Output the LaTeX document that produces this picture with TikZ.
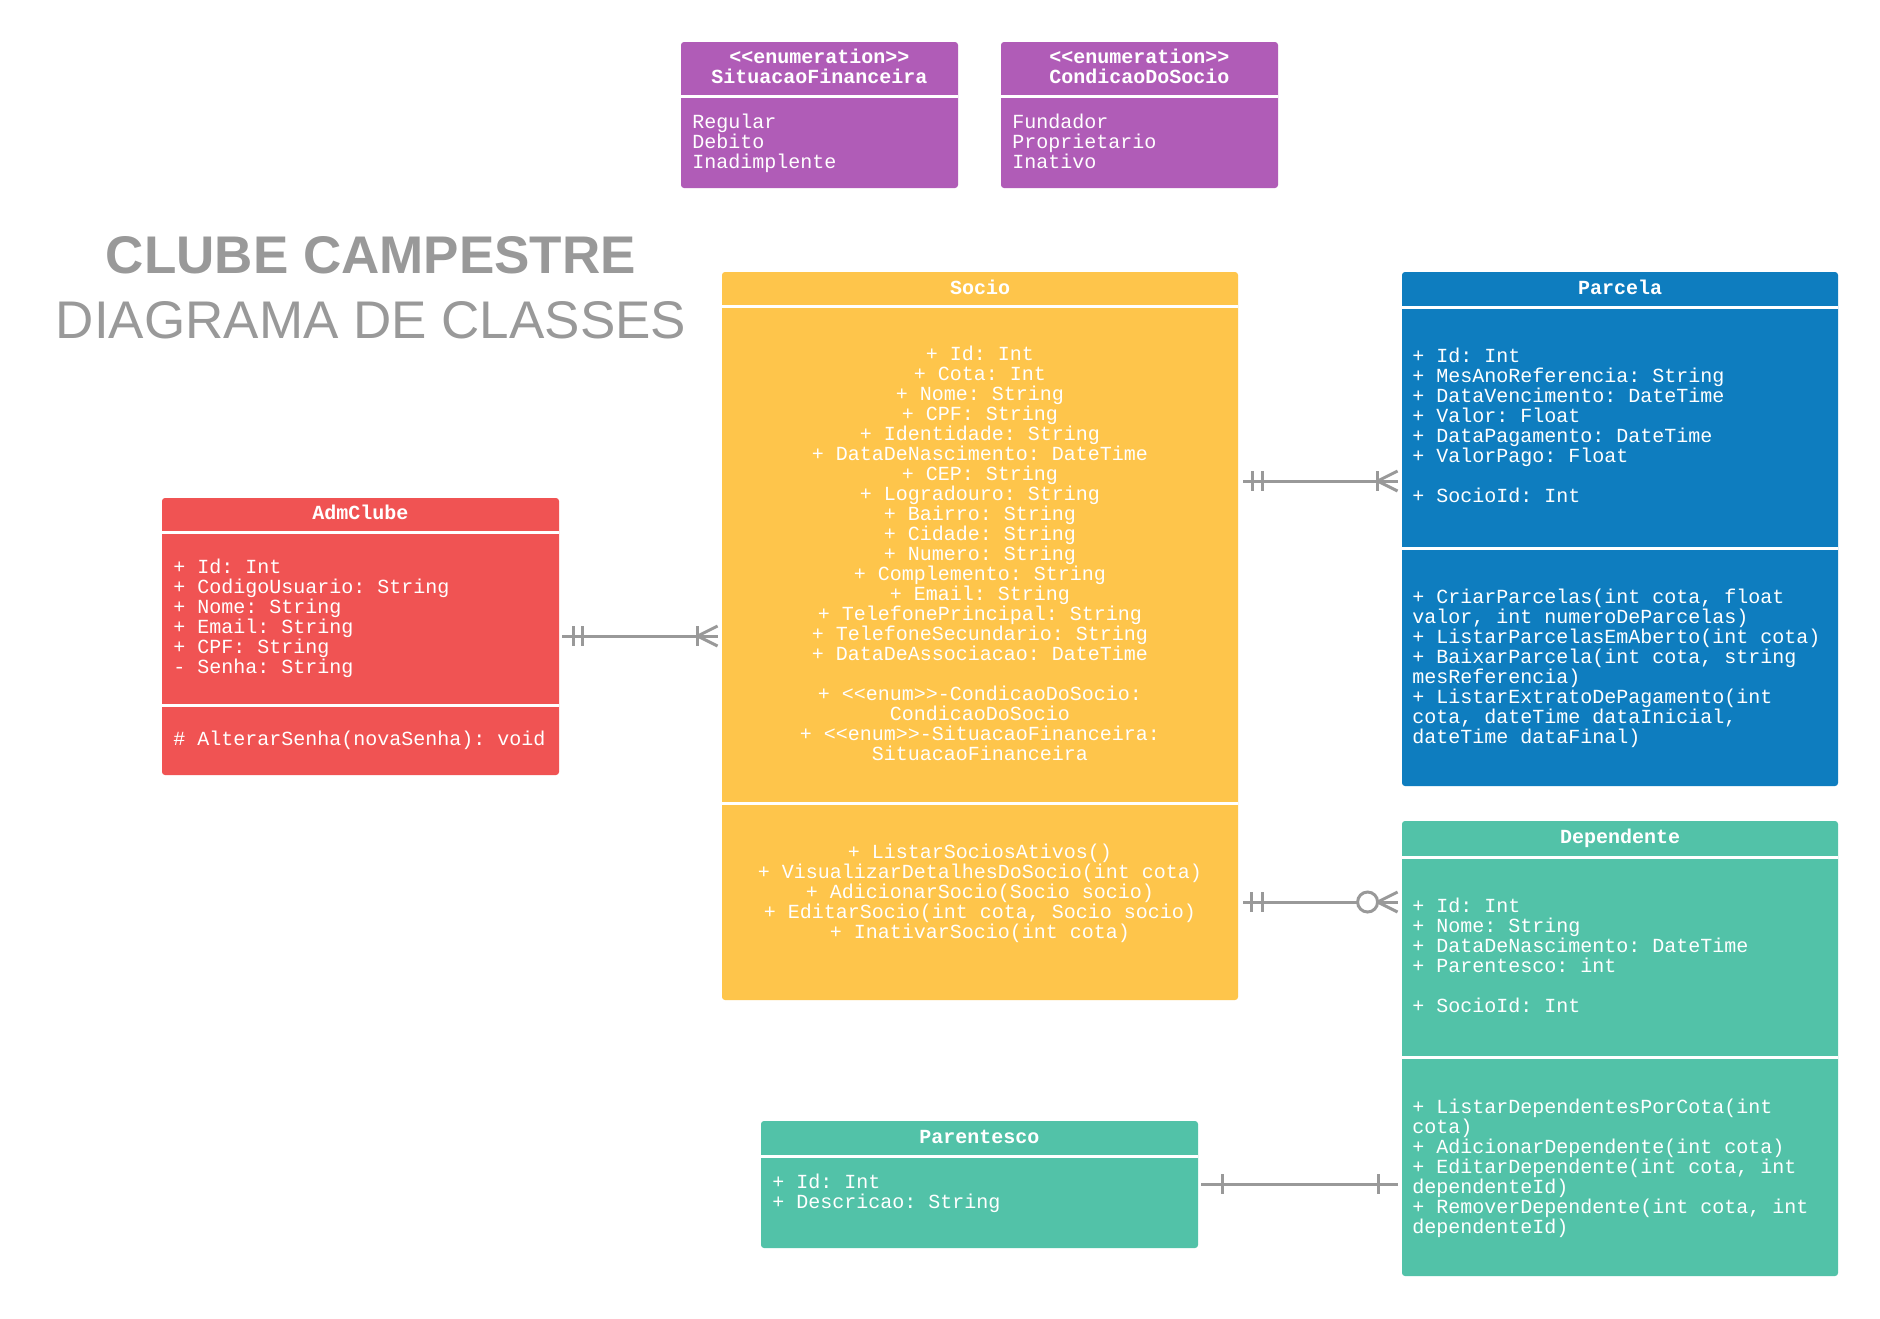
\documentclass[tikz,border=0pt]{standalone}
\usepackage{fontspec}
\newfontfamily\monof{Liberation Mono}
\newfontfamily\titlef{Liberation Sans}
\usetikzlibrary{fit}
\definecolor{purp}{HTML}{B05CB7}
\definecolor{sunY}{HTML}{FEC54B}
\definecolor{bluC}{HTML}{0E7DBF}
\definecolor{redC}{HTML}{F05353}
\definecolor{tealC}{HTML}{52C2A8}
\definecolor{lineG}{HTML}{999999}
\definecolor{titleG}{HTML}{999999}
\lineskiplimit=-20pt
\begin{document}
\frenchspacing
\begin{tikzpicture}[x=0.5pt,y=-0.5pt,
  boxst/.style={inner sep=0pt, rounded corners=1.5pt, draw=none},
  divider/.style={draw=white, line width=1.5pt},
  txt/.style={font=\monof\fontsize{10}{10}\selectfont, text=white, inner sep=0pt},
  hdr/.style={txt, font=\monof\bfseries\fontsize{10}{10}\selectfont, align=center, anchor=base},
  lft/.style={txt, align=left, anchor=base west},
  ctr/.style={txt, align=center, anchor=base},
  conn/.style={draw=lineG, line width=1.5pt},
  titletxt/.style={font=\titlef\fontsize{26.5}{30}\selectfont, text=titleG, inner sep=0pt, anchor=base}]
\useasboundingbox[fill=white] (0,0) rectangle (1880,1318);
% (text nodes are placed by the baseline of their last line)

% ---------- title ----------
\node[titletxt, font=\titlef\bfseries\fontsize{26.5}{30}\selectfont] (t1) at (371,273) {CLUBE CAMPESTRE};
\node[titletxt] (t2) at (371,338) {DIAGRAMA DE CLASSES};

% ---------- enumerations ----------
\node[boxst, fill=purp, fit={(681,42) (958,188)}] (sitfin) {};
\draw[divider] (681,96) -- (958,96);
\node[hdr] (sitfinH) at (819.5,83) {<{}<enumeration>{}>\\SituacaoFinanceira};
\node[lft] (sitfinB) at (692,168) {Regular\\Debito\\Inadimplente};

\node[boxst, fill=purp, fit={(1001,42) (1278,188)}] (condsoc) {};
\draw[divider] (1001,96) -- (1278,96);
\node[hdr] (condsocH) at (1139.5,83) {<{}<enumeration>{}>\\CondicaoDoSocio};
\node[lft] (condsocB) at (1012,168) {Fundador\\Proprietario\\Inativo};

% ---------- Socio ----------
\node[boxst, fill=sunY, fit={(722,272) (1238,1000)}] (socio) {};
\draw[divider] (722,306) -- (1238,306);
\draw[divider] (722,803) -- (1238,803);
\node[hdr] (socioH) at (980,294) {Socio};
\node[ctr] (socioA) at (980,760) {+ Id: Int\\+ Cota: Int\\+ Nome: String\\+ CPF: String\\+ Identidade: String\\+ DataDeNascimento: DateTime\\+ CEP: String\\+ Logradouro: String\\+ Bairro: String\\+ Cidade: String\\+ Numero: String\\+ Complemento: String\\+ Email: String\\+ TelefonePrincipal: String\\+ TelefoneSecundario: String\\+ DataDeAssociacao: DateTime\\[10pt]+ <{}<enum>{}>-CondicaoDoSocio:\\CondicaoDoSocio\\+ <{}<enum>{}>-SituacaoFinanceira:\\SituacaoFinanceira};
\node[ctr] (socioM) at (980,938) {+ ListarSociosAtivos()\\+ VisualizarDetalhesDoSocio(int cota)\\+ AdicionarSocio(Socio socio)\\+ EditarSocio(int cota, Socio socio)\\+ InativarSocio(int cota)};

% ---------- Parcela ----------
\node[boxst, fill=bluC, fit={(1402,272) (1838,786)}] (parcela) {};
\draw[divider] (1402,307) -- (1838,307);
\draw[divider] (1402,548) -- (1838,548);
\node[hdr] (parcelaH) at (1620,294) {Parcela};
\node[lft] (parcelaA) at (1412,502) {+ Id: Int\\+ MesAnoReferencia: String\\+ DataVencimento: DateTime\\+ Valor: Float\\+ DataPagamento: DateTime\\+ ValorPago: Float\\[10pt]+ SocioId: Int};
\node[lft] (parcelaM) at (1412,743) {+ CriarParcelas(int cota, float\\valor, int numeroDeParcelas)\\+ ListarParcelasEmAberto(int cota)\\+ BaixarParcela(int cota, string\\mesReferencia)\\+ ListarExtratoDePagamento(int\\cota, dateTime dataInicial,\\dateTime dataFinal)};

% ---------- AdmClube ----------
\node[boxst, fill=redC, fit={(162,498) (559,775)}] (adm) {};
\draw[divider] (162,532) -- (559,532);
\draw[divider] (162,705) -- (559,705);
\node[hdr] (admH) at (360.5,519) {AdmClube};
\node[lft] (admA) at (173,673) {+ Id: Int\\+ CodigoUsuario: String\\+ Nome: String\\+ Email: String\\+ CPF: String\\- Senha: String};
\node[lft] (admM) at (173,745) {\# AlterarSenha(novaSenha): void};

% ---------- Dependente ----------
\node[boxst, fill=tealC, fit={(1402,821) (1838,1276)}] (dep) {};
\draw[divider] (1402,857) -- (1838,857);
\draw[divider] (1402,1057) -- (1838,1057);
\node[hdr] (depH) at (1620,843) {Dependente};
\node[lft] (depA) at (1412,1012) {+ Id: Int\\+ Nome: String\\+ DataDeNascimento: DateTime\\+ Parentesco: int\\[10pt]+ SocioId: Int};
\node[lft] (depM) at (1412,1233) {+ ListarDependentesPorCota(int\\cota)\\+ AdicionarDependente(int cota)\\+ EditarDependente(int cota, int\\dependenteId)\\+ RemoverDependente(int cota, int\\dependenteId)};

% ---------- Parentesco ----------
\node[boxst, fill=tealC, fit={(761,1121) (1198,1248)}] (par) {};
\draw[divider] (761,1156) -- (1198,1156);
\node[hdr] (parH) at (979.5,1143) {Parentesco};
\node[lft] (parA) at (772,1208) {+ Id: Int\\+ Descricao: String};

% ---------- connectors ----------
\coordinate (ySP) at (0,481);
\coordinate (yAS) at (0,636);
\coordinate (ySD) at (0,902);
\coordinate (yPD) at (0,1184);

% Socio -- Parcela
\coordinate (spA) at ([xshift=2.5pt]socio.east |- ySP);
\coordinate (spB) at ([xshift=-2pt]parcela.west |- ySP);
\draw[conn] (spA) -- (spB);
\draw[conn] (spA) ++(9,-10) -- ++(0,20);
\draw[conn] (spA) ++(19,-10) -- ++(0,20);
\draw[conn] (spB) ++(-20,-10) -- ++(0,20);
\draw[conn] (spB) ++(0,-10) -- ++(-20,10) -- ++(20,10);

% AdmClube -- Socio
\coordinate (asA) at ([xshift=1.5pt]adm.east |- yAS);
\coordinate (asB) at ([xshift=-2pt]socio.west |- yAS);
\draw[conn] (asA) -- (asB);
\draw[conn] (asA) ++(11,-10) -- ++(0,20);
\draw[conn] (asA) ++(20,-10) -- ++(0,20);
\draw[conn] (asB) ++(-20,-10) -- ++(0,20);
\draw[conn] (asB) ++(0,-10) -- ++(-20,10) -- ++(20,10);

% Socio -- Dependente
\coordinate (sdA) at ([xshift=2.5pt]socio.east |- ySD);
\coordinate (sdB) at ([xshift=-2pt]dep.west |- ySD);
\draw[conn] (sdA) -- (sdB);
\draw[conn] (sdA) ++(8,-10) -- ++(0,20);
\draw[conn] (sdA) ++(19,-10) -- ++(0,20);
\draw[conn] (sdB) ++(0,-10) -- ++(-20,10) -- ++(20,10);
\draw[conn, fill=white] (sdB) ++(-30,0) circle[radius=5pt];

% Parentesco -- Dependente
\coordinate (pdA) at ([xshift=1.5pt]par.east |- yPD);
\coordinate (pdB) at ([xshift=-2pt]dep.west |- yPD);
\draw[conn] (pdA) -- (pdB);
\draw[conn] (pdA) ++(21,-10) -- ++(0,20);
\draw[conn] (pdB) ++(-19,-10) -- ++(0,20);
\end{tikzpicture}
\end{document}
